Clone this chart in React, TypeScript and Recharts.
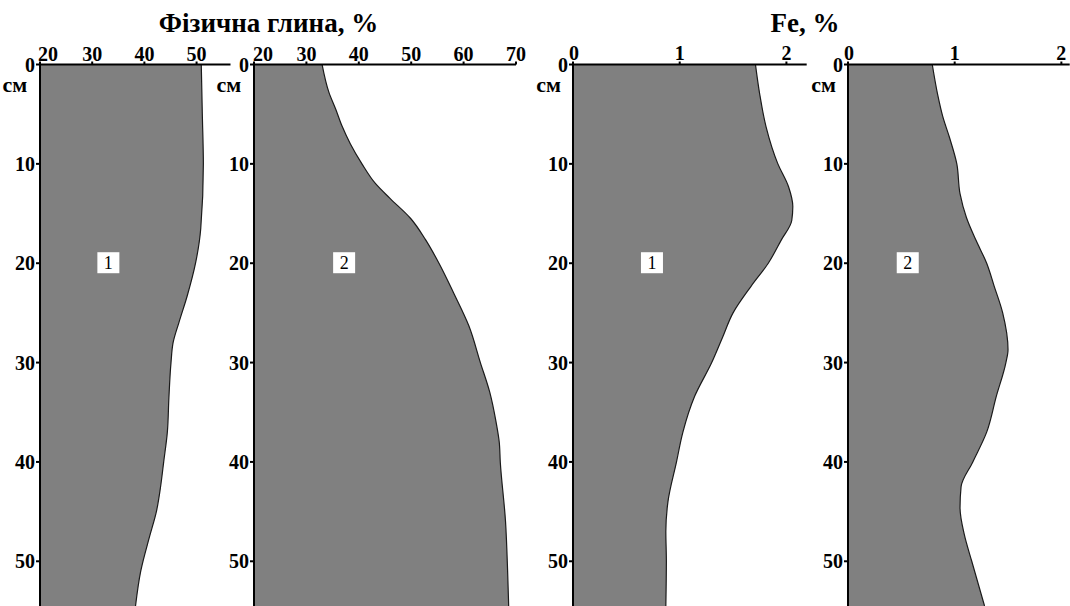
import React from "react";
import { AreaChart, Area, XAxis, YAxis, ReferenceDot } from "recharts";

// depth (cm) grid for the y axes, read downwards from the top edge
const depthTicks = [0, 10, 20, 30, 40, 50];

// physical clay, profile 1
const clay1Depth = [0, 5, 10, 16.5, 20, 23.3, 26, 28, 30, 33.5, 37, 40, 42.5, 45, 47.5, 51, 54.5];
const clay1Value = [50.9, 51.1, 51.3, 50.8, 49.8, 48.2, 46.6, 45.5, 45.1, 44.7, 44.4, 43.7, 43.1, 42.3, 41.0, 39.3, 38.3];

// physical clay, profile 2
const clay2Depth = [0, 2.8, 4.5, 6.2, 8, 10, 12, 13.5, 15.5, 17.6, 20, 23, 26.3, 30, 33, 36, 38, 40, 46, 51, 54.5];
const clay2Value = [33.0, 34.3, 35.6, 36.8, 38.4, 40.6, 43.2, 46.0, 49.9, 52.7, 55.3, 58.1, 61.0, 63.2, 65.0, 66.2, 66.8, 67.0, 68.0, 68.4, 68.6];

// Fe, profile 1
const fe1Depth = [0, 3, 6.3, 10, 12.3, 14.3, 15.7, 17.7, 20, 22.3, 25, 27.5, 30, 33.4, 37, 40, 44, 47, 50, 54.5];
const fe1Value = [1.71, 1.75, 1.81, 1.92, 2.02, 2.06, 2.05, 1.95, 1.83, 1.67, 1.5, 1.4, 1.3, 1.14, 1.03, 0.97, 0.89, 0.87, 0.875, 0.87];

// Fe, profile 2
const fe2Depth = [0, 3, 5.3, 7.3, 10, 13, 15.4, 17.7, 20, 22.3, 25, 28.7, 30, 33.4, 37, 40, 42.5, 44.6, 47.3, 50, 54.5];
const fe2Value = [0.79, 0.84, 0.89, 0.95, 1.02, 1.05, 1.11, 1.2, 1.3, 1.37, 1.45, 1.5, 1.48, 1.39, 1.3, 1.17, 1.06, 1.05, 1.09, 1.16, 1.28];

const clayTicks1 = [20, 30, 40, 50];
const clayTicks2 = [20, 30, 40, 50, 60, 70];
const feTicks = [0, 1, 2];

const titleClay = "Фізична глина, %";
const titleFe = "Fe, %";
const depthUnit = "см";

const FONT = "'Liberation Serif', 'Times New Roman', serif";
const Y_AXIS_W = 40;
const X_AXIS_H = 30;
const PLOT_TOP = 64.5;
const H = 606;

interface ProfileProps {
  plotLeft: number;
  plotRight: number;
  rightPad: number;
  domain: [number, number];
  ticks: number[];
  firstTickShift: number;
  depth: number[];
  values: number[];
  label: string;
  labelX: number;
}

function Profile(p: ProfileProps) {
  const data = p.depth.map((d, i) => ({ depth: d, value: p.values[i] }));
  const left = p.plotLeft - Y_AXIS_W;
  const width = p.plotRight - left + p.rightPad;

  const xTick = (props: any) => {
    const { x, y, payload, index } = props;
    const dx = index === 0 ? p.firstTickShift : 0;
    return (
      <text
        x={x + dx}
        y={y}
        textAnchor="middle"
        fontFamily={FONT}
        fontWeight="bold"
        fontSize={20}
        fill="#000"
      >
        {payload.value}
      </text>
    );
  };

  const box = (props: any) => {
    const { cx, cy } = props;
    return (
      <g>
        <rect x={cx - 11} y={cy - 11} width={22} height={21} fill="#fff" />
        <text x={cx} y={cy + 6} textAnchor="middle" fontFamily={FONT} fontSize={18} fill="#000">
          {p.label}
        </text>
      </g>
    );
  };

  return (
    <div style={{ position: "absolute", left, top: 0 }}>
      <AreaChart
        width={width}
        height={H}
        layout="vertical"
        data={data}
        margin={{ top: PLOT_TOP - X_AXIS_H, right: p.rightPad, bottom: 0, left: 0 }}
      >
        <XAxis
          type="number"
          orientation="top"
          dataKey="value"
          domain={p.domain}
          ticks={p.ticks}
          allowDataOverflow
          height={X_AXIS_H}
          tickSize={3}
          tickMargin={1}
          stroke="#000"
          strokeWidth={2}
          tick={xTick}
        />
        <YAxis
          type="number"
          dataKey="depth"
          domain={[0, 54.5]}
          ticks={depthTicks}
          allowDataOverflow
          width={Y_AXIS_W}
          tickSize={4}
          tickMargin={1}
          stroke="#000"
          strokeWidth={2}
          tick={{ fontFamily: FONT, fontWeight: "bold", fontSize: 20, fill: "#000" }}
        />
        <Area
          type="monotone"
          dataKey="value"
          fill="#808080"
          fillOpacity={1}
          stroke="#1a1a1a"
          strokeWidth={1.2}
          isAnimationActive={false}
          dot={false}
          activeDot={false}
        />
        <ReferenceDot x={p.labelX} y={20} shape={box} ifOverflow="visible" />
      </AreaChart>
      <div
        style={{
          position: "absolute",
          left: Y_AXIS_W - 37,
          top: 74,
          fontFamily: FONT,
          fontWeight: "bold",
          fontSize: 22,
          lineHeight: 1,
        }}
      >
        {depthUnit}
      </div>
    </div>
  );
}

export default function App() {
  return (
    <div
      style={{
        position: "fixed",
        left: 0,
        top: 0,
        width: 1070,
        height: 606,
        background: "#fff",
        overflow: "hidden",
      }}
    >
      <Profile
        plotLeft={39.5}
        plotRight={230}
        rightPad={2}
        domain={[20, 56.5]}
        ticks={clayTicks1}
        firstTickShift={8}
        depth={clay1Depth}
        values={clay1Value}
        label="1"
        labelX={33.1}
      />
      <Profile
        plotLeft={253.5}
        plotRight={515.5}
        rightPad={12}
        domain={[20, 70]}
        ticks={clayTicks2}
        firstTickShift={9}
        depth={clay2Depth}
        values={clay2Value}
        label="2"
        labelX={37.2}
      />
      <Profile
        plotLeft={573.3}
        plotRight={807}
        rightPad={4}
        domain={[0, 2.19]}
        ticks={feTicks}
        firstTickShift={1}
        depth={fe1Depth}
        values={fe1Value}
        label="1"
        labelX={0.74}
      />
      <Profile
        plotLeft={848.3}
        plotRight={1070}
        rightPad={0}
        domain={[0, 2.078]}
        ticks={feTicks}
        firstTickShift={1}
        depth={fe2Depth}
        values={fe2Value}
        label="2"
        labelX={0.56}
      />
      <div
        style={{
          position: "absolute",
          left: 0,
          width: 537,
          top: 10,
          textAlign: "center",
          fontFamily: FONT,
          fontWeight: "bold",
          fontSize: 27,
          lineHeight: 1,
        }}
      >
        {titleClay}
      </div>
      <div
        style={{
          position: "absolute",
          left: 705,
          width: 200,
          top: 10,
          textAlign: "center",
          fontFamily: FONT,
          fontWeight: "bold",
          fontSize: 27,
          lineHeight: 1,
        }}
      >
        {titleFe}
      </div>
    </div>
  );
}
